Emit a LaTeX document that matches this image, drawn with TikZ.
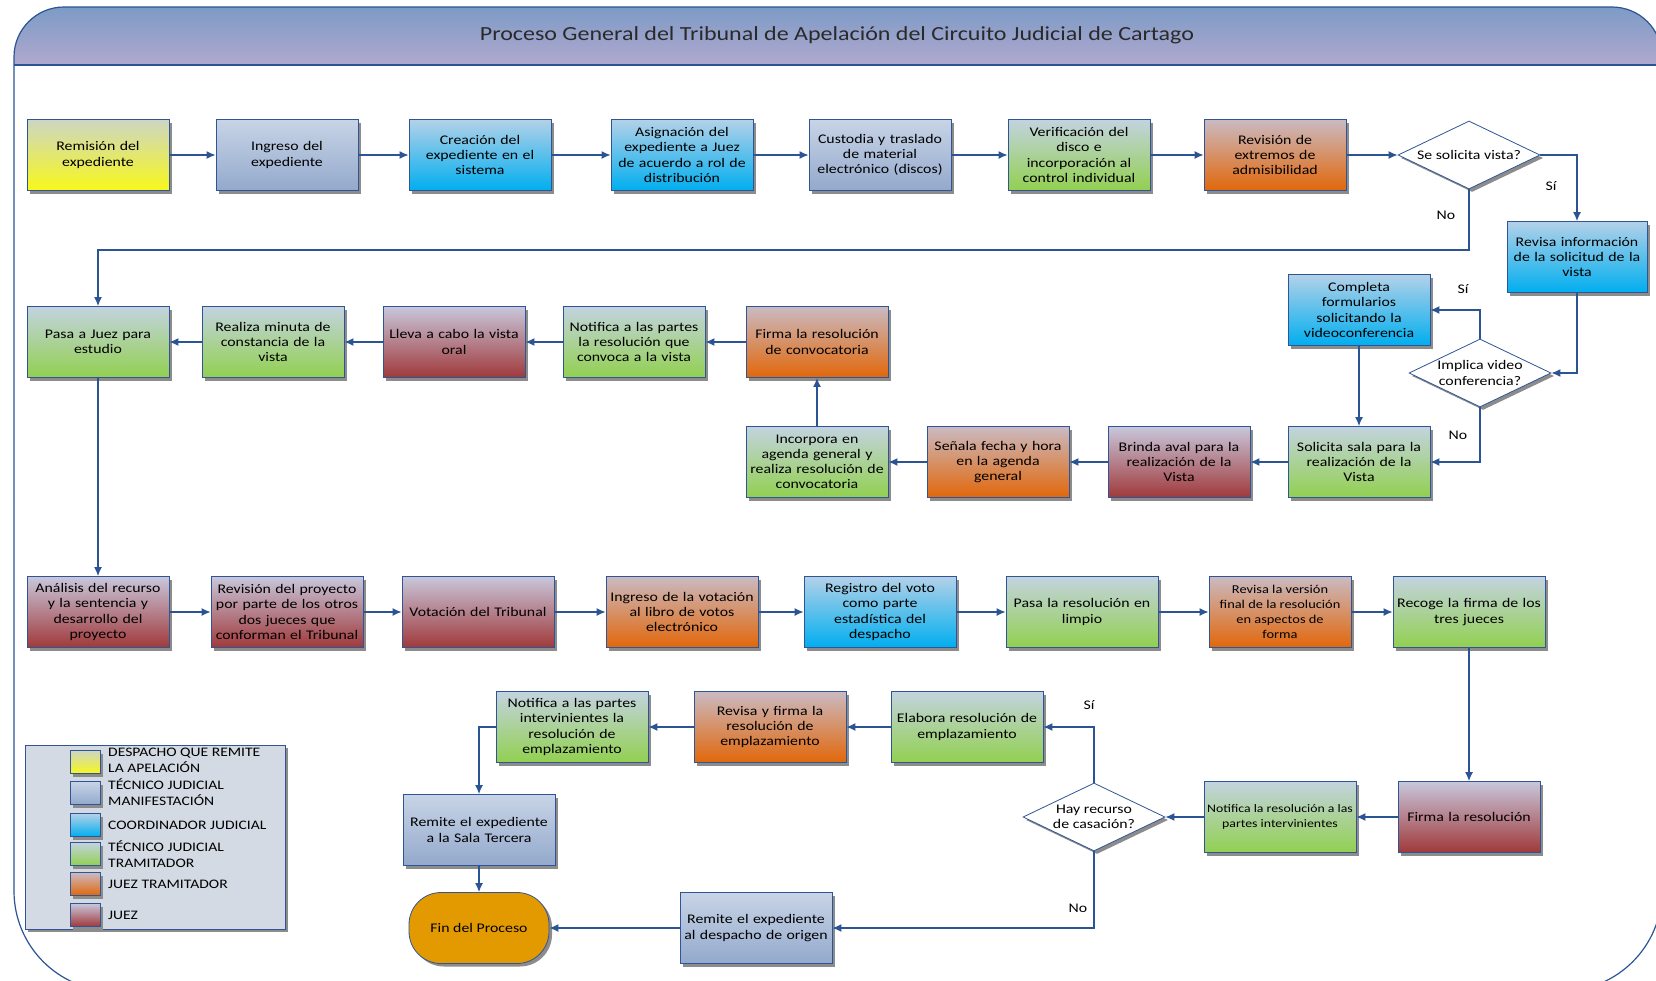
\documentclass[tikz,border=0pt]{standalone}
\usepackage{fontspec}
\setmainfont{Carlito}[FakeStretch=1.2]
\usetikzlibrary{shapes.geometric,arrows.meta,shadows,calc}
\definecolor{bord}{HTML}{2F5597}
\definecolor{conn}{HTML}{2B5494}
\definecolor{yelT}{HTML}{CDD6C4}\definecolor{yelB}{HTML}{F8F81A}
\definecolor{gryT}{HTML}{C8D4E6}\definecolor{gryB}{HTML}{93A9CC}
\definecolor{cyaT}{HTML}{B3D1E8}\definecolor{cyaB}{HTML}{00AEEF}
\definecolor{grnT}{HTML}{C3D3DF}\definecolor{grnB}{HTML}{92D050}
\definecolor{orgT}{HTML}{CABAC2}\definecolor{orgB}{HTML}{E2670A}
\definecolor{redT}{HTML}{C8C7DC}\definecolor{redB}{HTML}{A0393A}
\definecolor{finc}{HTML}{E39A00}
\definecolor{legf}{HTML}{D3DAE3}
\definecolor{banT}{HTML}{7C9BC6}\definecolor{banB}{HTML}{B1A8CE}
\definecolor{titc}{HTML}{2A2A2A}
\newcommand\boxfnt{\fontsize{13.2}{15.2}\selectfont}
\newcommand\smlfnt{\fontsize{12}{15.2}\selectfont}
\newcommand\tnyfnt{\fontsize{11.5}{15.2}\selectfont}
\newcommand\legfnt{\fontsize{13}{16}\selectfont}
\newcommand\ttlfnt{\fontsize{20}{22}\selectfont}
\begin{document}
\begin{tikzpicture}[x=1pt,y=-1pt,
  shad/.style={drop shadow={shadow xshift=3pt,shadow yshift=-3pt,fill=black!45,opacity=1}},
  box/.style={draw=bord,line width=0.8pt,minimum height=71pt,minimum width=142pt,text width=134pt,inner sep=2pt,align=center,font=\boxfnt,shad},
  wbox/.style={box,minimum width=152pt,text width=146pt},
  fyel/.style={top color=yelT,bottom color=yelB},
  fgry/.style={top color=gryT,bottom color=gryB},
  fcya/.style={top color=cyaT,bottom color=cyaB},
  fgrn/.style={top color=grnT,bottom color=grnB},
  forg/.style={top color=orgT,bottom color=orgB},
  fred/.style={top color=redT,bottom color=redB},
  dec/.style={diamond,shape aspect=2.1,draw=bord,fill=white,line width=0.8pt,minimum width=142pt,minimum height=68pt,inner sep=0pt,align=center,font=\boxfnt,shad},
  arr/.style={draw=conn,line width=1.3pt,-{Latex[length=9pt,width=8pt]}},
  lbl/.style={font=\boxfnt,inner sep=1pt},
  sw/.style={draw=bord,line width=0.8pt,minimum width=30pt,minimum height=23pt,inner sep=0pt,shad},
  ltxt/.style={font=\legfnt,anchor=west,align=left,inner sep=0pt},
  frame/.style={draw=conn,line width=1.2pt}]
\useasboundingbox (0,0) rectangle (1656,980);
\clip (0,0) rectangle (1656,980);
\fill[white] (0,0) rectangle (1656,980);
% frame and banner
\begin{scope}
\clip[rounded corners=50pt] (14,7) rectangle (1662,200);
\shade[top color=banT,bottom color=banB] (14,7) rectangle (1662,65);
\end{scope}
\draw[frame,rounded corners=50pt] (14,500) -- (14,7) -- (1662,7) -- (1662,500);
\draw[frame,rounded corners=100pt] (14,500) -- (14,991) -- (1662,991) -- (1662,500);
\draw[frame,line width=1.6pt] (14,65) -- (1662,65);
\node[font=\ttlfnt,text=titc] (title) at (837,35) {Proceso General del Tribunal de Apelación del Circuito Judicial de Cartago};

% Row 1
\node[box,fyel] (r1a) at (98,155) {Remisión del\\expediente};
\node[box,fgry] (r1b) at (287,155) {Ingreso del\\expediente};
\node[box,fcya] (r1c) at (480,155) {Creación del\\expediente en el\\sistema};
\node[box,fcya] (r1d) at (682,155) {Asignación del\\expediente a Juez\\de acuerdo a rol de\\distribución};
\node[box,fgry] (r1e) at (880,155) {Custodia y traslado\\de material\\electrónico (discos)};
\node[box,fgrn] (r1f) at (1079,155) {Verificación del\\disco e\\incorporación al\\control individual};
\node[box,forg] (r1g) at (1275,155) {Revisión de\\extremos de\\admisibilidad};
\node[dec] (d1) at (1469,155) {Se solicita vista?};
\node[box,fcya,minimum width=140pt] (info) at (1577,257) {Revisa información\\de la solicitud de la\\vista};

% Row 2
\node[box,fcya] (comp) at (1359,310) {Completa\\formularios\\solicitando la\\videoconferencia};
\node[dec] (d2) at (1480,373) {Implica video\\conferencia?};
\node[box,fgrn] (sol) at (1359,462) {Solicita sala para la\\realización de la\\Vista};
\node[box,fred] (brin) at (1179,462) {Brinda aval para la\\realización de la\\Vista};
\node[box,forg] (sen) at (998,462) {Señala fecha y hora\\en la agenda\\general};
\node[box,fgrn] (inc) at (817,462) {Incorpora en\\agenda general y\\realiza resolución de\\convocatoria};
\node[box,forg] (firc) at (817,342) {Firma la resolución\\de convocatoria};
\node[box,fgrn] (notc) at (634,342) {Notifica a las partes\\la resolución que\\convoca a la vista};
\node[box,fred] (lleva) at (454,342) {Lleva a cabo la vista\\oral};
\node[box,fgrn] (real) at (273,342) {Realiza minuta de\\constancia de la\\vista};
\node[box,fgrn] (pasa) at (98,342) {Pasa a Juez para\\estudio};

% Row 3
\node[box,fred] (anal) at (98,612) {Análisis del recurso\\y la sentencia y\\desarrollo del\\proyecto};
\node[wbox,fred] (revp) at (287,612) {Revisión del proyecto\\por parte de los otros\\dos jueces que\\conforman el Tribunal};
\node[wbox,fred] (vot) at (478,612) {Votación del Tribunal};
\node[wbox,forg] (ingv) at (682,612) {Ingreso de la votación\\al libro de votos\\electrónico};
\node[wbox,fcya] (reg) at (880,612) {Registro del voto\\como parte\\estadística del\\despacho};
\node[wbox,fgrn] (limp) at (1082,612) {Pasa la resolución en\\limpio};
\node[box,forg,font=\smlfnt,text width={},inner sep=1pt] (revv) at (1280,612) {Revisa la versión\\final de la resolución\\en aspectos de\\forma};
\node[wbox,fgrn] (rec) at (1469,612) {Recoge la firma de los\\tres jueces};

% Row 4
\node[box,fred] (firm) at (1469,817) {Firma la resolución};
\node[wbox,fgrn,font=\tnyfnt,text width={},inner sep=1pt] (notr) at (1280,817) {Notifica la resolución a las\\partes intervinientes};
\node[dec] (d3) at (1094,817) {Hay recurso\\de casación?};
\node[wbox,fgrn] (elab) at (967,727) {Elabora resolución de\\emplazamiento};
\node[wbox,forg] (revf) at (770,727) {Revisa y firma la\\resolución de\\emplazamiento};
\node[wbox,fgrn] (noti) at (572,727) {Notifica a las partes\\intervinientes la\\resolución de\\emplazamiento};
\node[wbox,fgry] (sala) at (479,830) {Remite el expediente\\a la Sala Tercera};
\node[draw=bord,fill=finc,line width=0.8pt,rounded corners=32pt,minimum width=140pt,minimum height=71pt,font=\boxfnt,shad] (fin) at (479,928) {Fin del Proceso};
\node[wbox,fgry] (remd) at (756,928) {Remite el expediente\\al despacho de origen};

% labels
\node[lbl] (ls1) at (1551,186) {Sí};
\node[lbl] (ln1) at (1446,215) {No};
\node[lbl] (ls2) at (1463,289) {Sí};
\node[lbl] (ln2) at (1458,435) {No};
\node[lbl] (ls3) at (1089,705) {Sí};
\node[lbl] (ln3) at (1078,908) {No};

% connectors
\coordinate (no1) at (0,250);
\draw[arr] (r1a.east) -- (r1b.west);
\draw[arr] (r1b.east) -- (r1c.west);
\draw[arr] (r1c.east) -- (r1d.west);
\draw[arr] (r1d.east) -- (r1e.west);
\draw[arr] (r1e.east) -- (r1f.west);
\draw[arr] (r1f.east) -- (r1g.west);
\draw[arr] (r1g.east) -- (d1.west);
\draw[arr] (d1.east) -| (info.north);
\draw[arr] (d1.south) -- (d1.south |- no1) -| (pasa.north);
\draw[arr] (info.south) |- (d2.east);
\draw[arr] (d2.north) |- (comp.east);
\draw[arr] (d2.south) |- (sol.east);
\draw[arr] (comp.south) -- (sol.north);
\draw[arr] (sol.west) -- (brin.east);
\draw[arr] (brin.west) -- (sen.east);
\draw[arr] (sen.west) -- (inc.east);
\draw[arr] (inc.north) -- (firc.south);
\draw[arr] (firc.west) -- (notc.east);
\draw[arr] (notc.west) -- (lleva.east);
\draw[arr] (lleva.west) -- (real.east);
\draw[arr] (real.west) -- (pasa.east);
\draw[arr] (pasa.south) -- (anal.north);
\draw[arr] (anal.east) -- (revp.west);
\draw[arr] (revp.east) -- (vot.west);
\draw[arr] (vot.east) -- (ingv.west);
\draw[arr] (ingv.east) -- (reg.west);
\draw[arr] (reg.east) -- (limp.west);
\draw[arr] (limp.east) -- (revv.west);
\draw[arr] (revv.east) -- (rec.west);
\draw[arr] (rec.south) -- (firm.north);
\draw[arr] (firm.west) -- (notr.east);
\draw[arr] (notr.west) -- (d3.east);
\draw[arr] (d3.north) |- (elab.east);
\draw[arr] (d3.south) |- (remd.east);
\draw[arr] (elab.west) -- (revf.east);
\draw[arr] (revf.west) -- (noti.east);
\draw[arr] (noti.west) -| (sala.north);
\draw[arr] (sala.south) -- (fin.north);
\draw[arr] (remd.west) -- (fin.east);

% legend
\node[draw=bord,fill=legf,line width=0.8pt,minimum width=260pt,minimum height=184pt,shad] (leg) at (155,837) {};
\node[sw,fyel] (sw1) at (85,762) {};
\node[sw,fgry] (sw2) at (85,793) {};
\node[sw,fcya] (sw3) at (85,825) {};
\node[sw,fgrn] (sw4) at (85,854) {};
\node[sw,forg] (sw5) at (85,884) {};
\node[sw,fred] (sw6) at (85,915) {};
\node[ltxt] (lt1) at (108,760) {DESPACHO QUE REMITE\\LA APELACIÓN};
\node[ltxt] (lt2) at (108,792) {TÉCNICO JUDICIAL\\MANIFESTACIÓN};
\node[ltxt] (lt3) at (108,825) {COORDINADOR JUDICIAL};
\node[ltxt] (lt4) at (108,854) {TÉCNICO JUDICIAL\\TRAMITADOR};
\node[ltxt] (lt5) at (108,884) {JUEZ TRAMITADOR};
\node[ltxt] (lt6) at (108,915) {JUEZ};
\end{tikzpicture}
\end{document}
